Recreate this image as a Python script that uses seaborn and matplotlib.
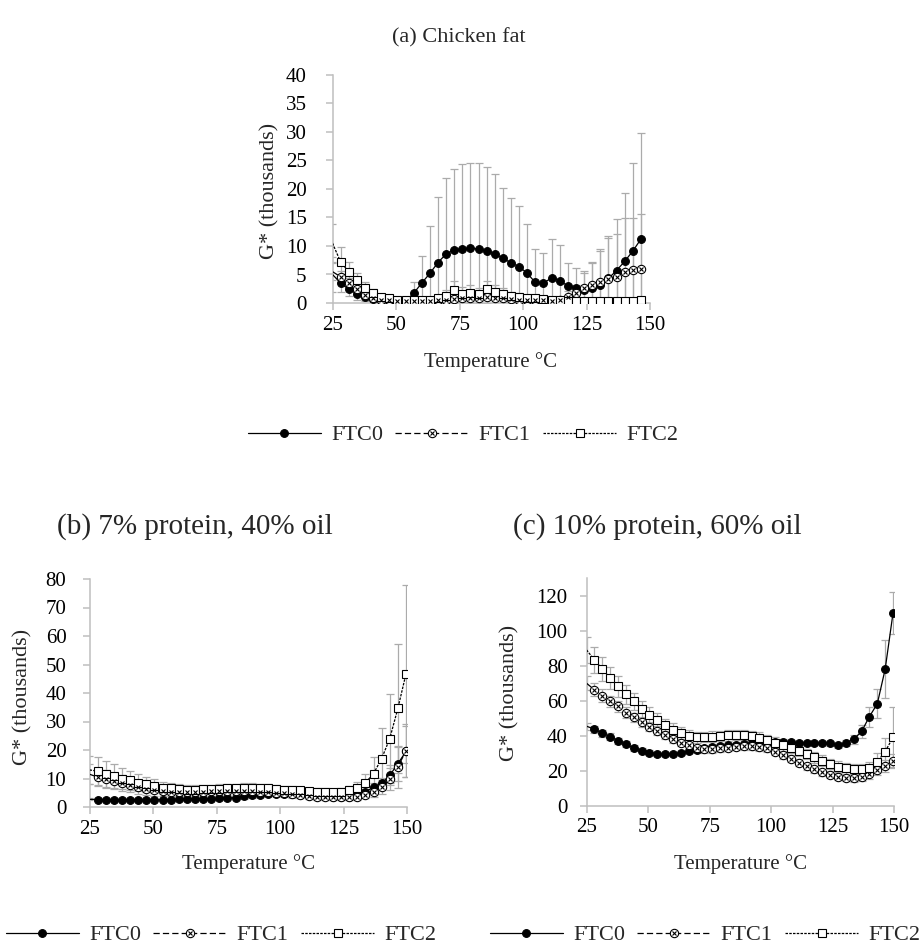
import matplotlib
matplotlib.use("Agg")
import matplotlib.pyplot as plt
import seaborn as sns
from matplotlib.lines import Line2D
from matplotlib.legend_handler import HandlerTuple

# temperature grid (first point sits just left of the 25 degC axis, line only)
temps = [24.8, 28.0, 31.2, 34.4, 37.6, 40.8, 44.0, 47.2, 50.4, 53.6, 56.8, 60.0,
         63.2, 66.4, 69.6, 72.8, 76.0, 79.2, 82.4, 85.6, 88.8, 92.0, 95.2, 98.4,
         101.6, 104.8, 108.0, 111.2, 114.4, 117.6, 120.8, 124.0, 127.2, 130.4,
         133.6, 136.8, 140.0, 143.2, 146.4, 149.6]
series_names = ["FTC0", "FTC1", "FTC2"]
x_ticks = [25, 50, 75, 100, 125, 150]

# (a) chicken fat, G* in thousands
fat_ftc0 = [5.0, 3.5, 2.4, 1.6, 1.1, 0.7, 0.5, 0.4, 0.3, 0.3, 1.7, 3.5, 5.2, 7.1, 8.6,
            9.3, 9.5, 9.6, 9.5, 9.1, 8.6, 7.9, 7.0, 6.4, 5.2, 3.6, 3.5, 4.4, 3.9, 3.0,
            2.6, 2.2, 2.6, 3.2, 4.3, 5.7, 7.3, 9.1, 11.2]
fat_ftc1 = [5.5, 4.6, 3.5, 2.4, 1.4, 0.9, 0.6, 0.5, 0.4, 0.4, 0.4, 0.4, 0.4, 0.5, 0.6,
            0.7, 0.8, 0.8, 0.9, 1.0, 0.9, 0.8, 0.7, 0.6, 0.6, 0.5, 0.5, 0.4, 0.5, 1.1,
            1.7, 2.7, 3.2, 3.6, 4.2, 4.6, 5.5, 5.8, 6.0]
fat_ftc2 = [10.5, 7.2, 5.5, 4.0, 2.6, 1.7, 1.1, 0.8, 0.6, 0.5, 0.5, 0.5, 0.6, 0.8, 1.3,
            2.3, 1.6, 1.8, 1.5, 2.4, 2.0, 1.6, 1.2, 1.1, 0.9, 0.8, 0.7, 0.6, 0.5, 0.4,
            0.4, 0.4, 0.4, 0.4, 0.4, 0.4, 0.4, 0.4, 0.5]
fat_err0 = [3.0, 1.5, 1.2, 1.0, 0.8, 0.5, 0.4, 0.3, 0.3, 0.5, 2.0, 4.8, 8.3, 11.5, 13.3,
            14.2, 14.8, 14.9, 15.1, 14.7, 14.0, 12.2, 11.5, 10.6, 8.6, 5.8, 5.3, 6.9, 6.3,
            4.0, 3.5, 3.5, 4.5, 6.0, 7.5, 9.0, 12.0, 15.4, 18.6]
fat_err1 = [1.5, 1.0, 0.8, 0.6, 0.5, 0.4, 0.3, 0.3, 0.3, 0.3, 0.3, 0.3, 0.3, 0.4, 0.5,
            0.6, 0.7, 0.8, 0.9, 1.0, 1.0, 0.9, 0.8, 0.7, 0.6, 0.5, 0.5, 0.5, 0.6, 1.0,
            1.5, 2.5, 4.0, 5.9, 7.2, 7.5, 9.4, 9.1, 9.6]
fat_err2 = [3.3, 2.7, 1.7, 1.3, 1.0, 0.7, 0.5, 0.4, 0.3, 0.3, 0.3, 0.3, 0.4, 0.6, 1.0,
            1.5, 1.2, 1.4, 1.2, 1.4, 1.2, 1.0, 0.8, 0.6, 0.5, 0.4, 0.4, 0.3, 0.3, 0.3,
            0.3, 0.3, 0.3, 0.3, 0.3, 0.3, 0.3, 0.3, 0.3]

# (b) 7% protein, 40% oil
p7_ftc0 = [2.7, 2.6, 2.6, 2.6, 2.6, 2.6, 2.6, 2.6, 2.6, 2.6, 2.6, 2.7, 2.7, 2.8, 2.9,
           2.9, 3.0, 3.1, 3.3, 3.7, 4.1, 4.3, 4.5, 4.7, 4.7, 4.6, 4.3, 4.1, 4.0, 3.8,
           3.6, 3.5, 3.6, 4.3, 5.3, 7.0, 8.3, 11.1, 15.2, 19.5]
p7_ftc1 = [11.5, 10.5, 9.9, 9.1, 8.4, 7.8, 7.0, 6.4, 5.9, 5.6, 5.4, 5.3, 5.3, 5.3, 5.4,
           5.5, 5.5, 5.6, 5.6, 5.6, 5.5, 5.4, 5.2, 5.0, 4.8, 4.4, 4.1, 3.9, 3.6, 3.5,
           3.4, 3.4, 3.4, 3.5, 4.3, 5.4, 7.0, 9.8, 14.0, 19.8]
p7_ftc2 = [13.0, 12.6, 11.7, 10.8, 10.0, 9.3, 8.5, 7.9, 7.3, 6.8, 6.5, 6.2, 6.1, 6.1, 6.2,
           6.3, 6.4, 6.6, 6.7, 6.8, 6.8, 6.7, 6.6, 6.3, 6.1, 6.0, 5.8, 5.6, 5.4, 5.3,
           5.2, 5.4, 5.9, 6.6, 8.5, 11.7, 17.0, 24.0, 34.6, 46.7]
p7_err0 = [0.4, 0.4, 0.4, 0.4, 0.4, 0.4, 0.4, 0.4, 0.4, 0.4, 0.4, 0.4, 0.5, 0.5, 0.5,
           0.6, 0.6, 0.7, 0.7, 0.8, 0.8, 0.8, 0.8, 0.8, 0.8, 0.7, 0.7, 0.7, 0.6, 0.6,
           0.6, 0.6, 0.6, 0.8, 1.0, 1.5, 2.0, 3.5, 6.0, 9.0]
p7_err1 = [3.5, 3.3, 3.1, 2.9, 2.7, 2.5, 2.3, 2.1, 1.9, 1.8, 1.7, 1.6, 1.5, 1.5, 1.5,
           1.5, 1.5, 1.5, 1.5, 1.4, 1.4, 1.3, 1.3, 1.2, 1.2, 1.1, 1.1, 1.0, 1.0, 1.0,
           1.0, 1.0, 1.0, 1.1, 1.3, 1.8, 2.5, 4.0, 7.5, 9.4]
p7_err2 = [5.0, 5.0, 4.6, 4.2, 3.8, 3.4, 3.0, 2.7, 2.4, 2.1, 1.9, 1.7, 1.6, 1.5, 1.5,
           1.5, 1.5, 1.5, 1.5, 1.5, 1.5, 1.5, 1.5, 1.4, 1.4, 1.3, 1.3, 1.2, 1.2, 1.2,
           1.2, 1.3, 1.6, 2.0, 3.0, 5.9, 10.8, 15.7, 22.5, 31.3]

# (c) 10% protein, 60% oil
p10_ftc0 = [45.5, 43.8, 41.5, 39.6, 37.1, 35.2, 33.0, 31.4, 30.5, 29.7, 29.5, 29.7, 30.4,
            31.3, 32.1, 32.8, 33.4, 34.0, 34.5, 35.0, 35.4, 35.7, 36.0, 36.2, 36.4, 36.7,
            36.3, 36.0, 35.8, 35.8, 35.8, 35.8, 34.5, 35.8, 38.1, 42.5, 51.0, 58.3, 78.0,
            110.0]
p10_ftc1 = [70.0, 66.3, 62.9, 59.6, 56.8, 53.3, 50.5, 47.8, 45.3, 43.0, 40.6, 38.3, 36.2,
            34.5, 33.0, 32.4, 32.4, 32.8, 33.3, 33.8, 34.0, 34.0, 33.5, 32.8, 31.0, 29.0,
            27.0, 24.8, 22.8, 21.0, 19.2, 17.8, 16.8, 16.0, 15.8, 16.3, 18.0, 20.5, 23.0,
            25.8]
p10_ftc2 = [89.0, 83.4, 78.1, 73.0, 68.2, 63.8, 59.6, 55.4, 52.0, 48.8, 45.9, 43.4, 41.5,
            40.0, 39.2, 39.3, 39.6, 40.0, 40.3, 40.5, 40.4, 39.8, 39.0, 37.6, 36.2, 34.6,
            33.0, 31.4, 29.7, 27.8, 25.8, 24.0, 22.4, 21.4, 21.0, 21.0, 21.8, 25.3, 31.0,
            39.2]
p10_err0 = [2.0, 2.0, 1.9, 1.8, 1.7, 1.6, 1.5, 1.4, 1.3, 1.2, 1.2, 1.2, 1.2, 1.2, 1.2,
            1.2, 1.2, 1.2, 1.2, 1.2, 1.3, 1.3, 1.3, 1.3, 1.3, 1.3, 1.3, 1.3, 1.3, 1.3,
            1.3, 1.4, 1.5, 1.8, 2.5, 3.5, 5.7, 8.4, 16.5, 11.8]
p10_err1 = [4.0, 3.8, 3.6, 3.4, 3.2, 3.0, 2.8, 2.6, 2.5, 2.4, 2.3, 2.2, 2.1, 2.0, 2.0,
            2.0, 2.0, 2.0, 2.0, 2.0, 2.0, 2.0, 2.0, 2.0, 2.0, 2.0, 2.0, 2.0, 2.0, 2.0,
            2.0, 2.0, 2.0, 2.0, 2.0, 2.2, 2.5, 3.0, 3.5, 4.0]
p10_err2 = [7.5, 7.3, 6.8, 6.3, 5.8, 5.4, 5.0, 4.7, 4.4, 4.1, 3.9, 3.7, 3.5, 3.3, 3.1,
            3.0, 3.0, 3.0, 3.0, 3.0, 3.0, 3.0, 3.0, 3.0, 3.0, 3.0, 3.0, 3.0, 3.0, 3.0,
            3.0, 3.0, 3.0, 3.0, 3.0, 3.0, 3.5, 5.0, 8.0, 17.0]

sns.set_theme(style="white")
plt.rcParams["font.family"] = ["Liberation Serif", "DejaVu Serif"]
FS = 15
AXIS_GREY = "#BFBFBF"
ERR_GREY = "#ABABAB"

# line style per series: linestyle, marker, face colour
styles = [
    dict(linestyle="-", marker="o", markerfacecolor="black", markersize=5.6),
    dict(linestyle=(0, (5, 2.5)), marker="o", markerfacecolor="white", markersize=6.0),
    dict(linestyle=(0, (2, 1)), marker="s", markerfacecolor="white", markersize=5.8),
]


def draw_panel(ax, values, errors, ymax, ystep, yticks_max, ypad):
    n = len(values[0])
    t = temps[:n]
    for vals, err in zip(values, errors):
        ax.errorbar(t, vals, yerr=err, fmt="none", ecolor=ERR_GREY,
                    elinewidth=0.9, capsize=3.2, capthick=0.9, zorder=1)
    for vals, st in zip(values, styles):
        sns.lineplot(x=t, y=vals, ax=ax, color="black", linewidth=0.9,
                     estimator=None, sort=False, errorbar=None, legend=False,
                     markevery=list(range(1, n)), markeredgecolor="black",
                     markeredgewidth=0.8, zorder=3, **st)
    # cross inside the FTC1 circles
    ax.plot(t[1:], values[1][1:], linestyle="none", marker="x", markersize=3.4,
            markeredgewidth=0.8, color="black", zorder=4)
    ax.set_xlim(25, 150)
    ax.set_ylim(0, ymax)
    ax.set_xticks(x_ticks)
    ax.set_yticks(range(0, yticks_max + 1, ystep))
    ax.tick_params(axis="both", labelsize=FS, colors=AXIS_GREY, labelcolor="black",
                   length=5, width=1.1, direction="out", bottom=True, left=True)
    ax.tick_params(axis="x", pad=4)
    ax.tick_params(axis="y", pad=ypad)
    for side in ["top", "right"]:
        ax.spines[side].set_visible(False)
    for side in ["left", "bottom"]:
        ax.spines[side].set_color(AXIS_GREY)
        ax.spines[side].set_linewidth(1.1)
    ax.set_xlabel("")
    ax.set_ylabel("")
    ax.patch.set_alpha(0)


def legend_handles():
    h0 = Line2D([], [], color="black", linewidth=0.9, markeredgecolor="black",
                markeredgewidth=0.8, **styles[0])
    h1a = Line2D([], [], color="black", linewidth=0.9, markeredgecolor="black",
                 markeredgewidth=0.8, **styles[1])
    h1b = Line2D([], [], linestyle="none", marker="x", markersize=3.4,
                 markeredgewidth=0.8, color="black")
    h2 = Line2D([], [], color="black", linewidth=0.9, markeredgecolor="black",
                markeredgewidth=0.8, **styles[2])
    return [h0, (h1a, h1b), h2]


def add_legend(fig, cx, cy):
    fig.legend(legend_handles(), series_names, loc="center", bbox_to_anchor=(cx, cy),
               ncol=3, frameon=False, fontsize=FS + 1, handlelength=3.3,
               handletextpad=0.45, columnspacing=0.55, numpoints=1, borderpad=0.1,
               handler_map={tuple: HandlerTuple(ndivide=1, pad=0)})


W, H = 919, 947
fig = plt.figure(figsize=(W / 100, H / 100), dpi=100)


def px_axes(left, top, right, bottom):
    return fig.add_axes([left / W, 1 - bottom / H, (right - left) / W, (bottom - top) / H])


ax_a = px_axes(333, 75, 650, 303)
ax_b = px_axes(90, 579, 407, 807)
ax_c = px_axes(587, 578, 894, 806)

draw_panel(ax_a, [fat_ftc0, fat_ftc1, fat_ftc2], [fat_err0, fat_err1, fat_err2], 40, 5, 40, 14)
draw_panel(ax_b, [p7_ftc0, p7_ftc1, p7_ftc2], [p7_err0, p7_err1, p7_err2], 80, 10, 80, 12)
draw_panel(ax_c, [p10_ftc0, p10_ftc1, p10_ftc2], [p10_err0, p10_err1, p10_err2], 130, 20, 120, 9)

# titles, axis labels, legends
fig.text(459 / W, 1 - 38 / H, "(a) Chicken fat", ha="center", va="center", fontsize=16)
fig.text(195 / W, 1 - 527 / H, "(b) 7% protein, 40% oil", ha="center", va="center", fontsize=21)
fig.text(657 / W, 1 - 527 / H, "(c) 10% protein, 60% oil", ha="center", va="center", fontsize=21)

fig.text(491 / W, 1 - 362 / H, "Temperature °C", ha="center", va="center", fontsize=FS)
fig.text(248 / W, 1 - 864 / H, "Temperature °C", ha="center", va="center", fontsize=FS)
fig.text(740 / W, 1 - 864 / H, "Temperature °C", ha="center", va="center", fontsize=FS)

fig.text(270 / W, 1 - 191 / H, "G* (thousands)", rotation=90, ha="center", va="center", fontsize=FS + 1)
fig.text(23 / W, 1 - 697 / H, "G* (thousands)", rotation=90, ha="center", va="center", fontsize=FS + 1)
fig.text(510 / W, 1 - 693 / H, "G* (thousands)", rotation=90, ha="center", va="center", fontsize=FS + 1)

add_legend(fig, 463 / W, 1 - 435 / H)
add_legend(fig, 221 / W, 1 - 935 / H)
add_legend(fig, 705 / W, 1 - 935 / H)

fig.savefig("out.png", dpi=100, facecolor="white")
